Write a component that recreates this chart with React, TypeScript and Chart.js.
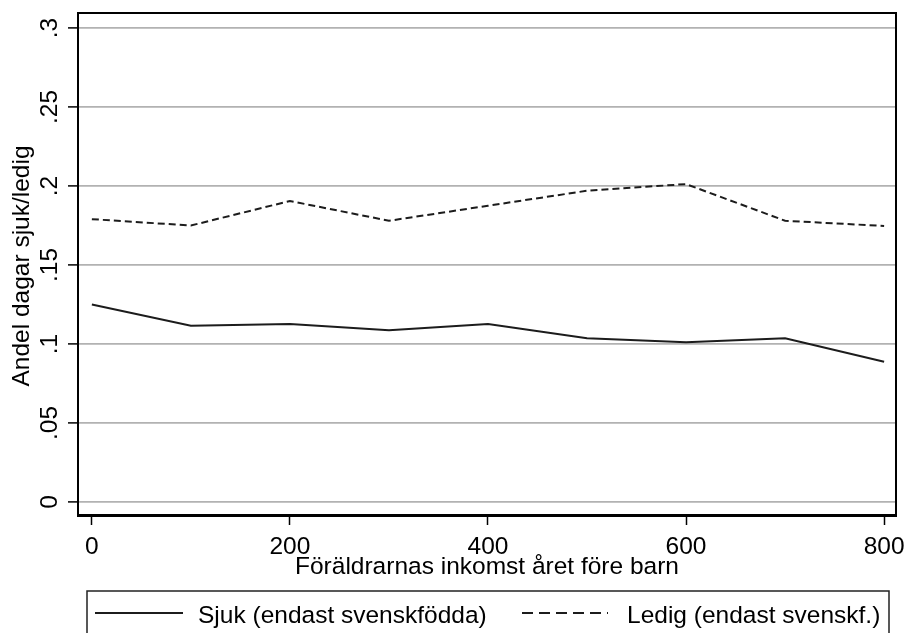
import React, { useEffect, useRef } from "react";
import { Chart, registerables } from "chart.js";

Chart.register(...registerables);

// ---- data ----
const incomeLevels = [0, 100, 200, 300, 400, 500, 600, 700, 800];
const sjukShare = [0.125, 0.1116, 0.1127, 0.1087, 0.1126, 0.1036, 0.1011, 0.1036, 0.0888];
const ledigShare = [0.179, 0.175, 0.1905, 0.178, 0.1875, 0.197, 0.2012, 0.178, 0.1747];
const xTickValues = [0, 200, 400, 600, 800];
const yTickValues = [0, 0.05, 0.1, 0.15, 0.2, 0.25, 0.3];
const yTickLabels = ["0", ".05", ".1", ".15", ".2", ".25", ".3"];
const seriesNames = ["Sjuk (endast svenskfödda)", "Ledig (endast svenskf.)"];
const xTitle = "Föräldrarnas inkomst året före barn";
const yTitle = "Andel dagar sjuk/ledig";

const FONT_SIZE = 24.5;
const FONT_FAMILY = '"Liberation Sans", Arial, sans-serif';
const LINE_COLOR = "#1c1c1c";
const GRID_COLOR = "#b2b2b2";

const stataPlugin = {
  id: "stataDecor",
  afterDraw(chart: any) {
    const { ctx, chartArea: a, scales } = chart;
    const ys = scales.y;
    ctx.save();
    ctx.font = `${FONT_SIZE}px ${FONT_FAMILY}`;
    ctx.fillStyle = "#000";
    ctx.textAlign = "center";
    ctx.textBaseline = "middle";
    // y tick labels (rotated, Stata style)
    yTickValues.forEach((v, i) => {
      const py = ys.getPixelForValue(v);
      ctx.save();
      ctx.translate(50, py);
      ctx.rotate(-Math.PI / 2);
      ctx.fillText(yTickLabels[i], 0, 0);
      ctx.restore();
    });
    // y title
    ctx.save();
    ctx.translate(22, (a.top + a.bottom) / 2 + 2);
    ctx.rotate(-Math.PI / 2);
    ctx.fillText(yTitle, 0, 0);
    ctx.restore();
    // x title
    ctx.textBaseline = "alphabetic";
    ctx.fillText(xTitle, (a.left + a.right) / 2, 574);
    // plot frame
    ctx.strokeStyle = "#000";
    ctx.lineWidth = 2;
    ctx.strokeRect(a.left, a.top, a.right - a.left, a.bottom - a.top);
    ctx.lineWidth = 3;
    ctx.beginPath();
    ctx.moveTo(a.left - 1, a.bottom + 0.5);
    ctx.lineTo(a.right + 1, a.bottom + 0.5);
    ctx.stroke();
    // legend
    const lgLeft = 87, lgTop = 591, lgRight = 889;
    ctx.lineWidth = 1.5;
    ctx.strokeStyle = "#222";
    ctx.beginPath();
    ctx.moveTo(lgLeft, 660);
    ctx.lineTo(lgLeft, lgTop);
    ctx.lineTo(lgRight, lgTop);
    ctx.lineTo(lgRight, 660);
    ctx.stroke();
    const sy = 613;
    ctx.strokeStyle = LINE_COLOR;
    ctx.lineWidth = 1.8;
    ctx.setLineDash([]);
    ctx.beginPath();
    ctx.moveTo(95, sy);
    ctx.lineTo(183, sy);
    ctx.stroke();
    ctx.setLineDash([11, 6]);
    ctx.beginPath();
    ctx.moveTo(522, sy);
    ctx.lineTo(608, sy);
    ctx.stroke();
    ctx.setLineDash([]);
    ctx.textAlign = "left";
    ctx.textBaseline = "alphabetic";
    ctx.fillText(seriesNames[0], 198, 623);
    ctx.fillText(seriesNames[1], 627, 623);
    ctx.restore();
  },
};

export default function App() {
  const canvasRef = useRef<HTMLCanvasElement | null>(null);

  useEffect(() => {
    if (!canvasRef.current) return;
    const chart = new Chart(canvasRef.current, {
      type: "line",
      data: {
        datasets: [
          {
            label: seriesNames[0],
            data: incomeLevels.map((x, i) => ({ x, y: sjukShare[i] })),
            borderColor: LINE_COLOR,
            borderWidth: 2,
            pointRadius: 0,
            tension: 0,
            fill: false,
          },
          {
            label: seriesNames[1],
            data: incomeLevels.map((x, i) => ({ x, y: ledigShare[i] })),
            borderColor: LINE_COLOR,
            borderWidth: 2,
            borderDash: [7, 4],
            pointRadius: 0,
            tension: 0,
            fill: false,
          },
        ],
      },
      options: {
        animation: false,
        responsive: false,
        devicePixelRatio: 1,
        layout: { padding: { left: 0, top: 13, right: 10, bottom: 78 } },
        plugins: { legend: { display: false }, tooltip: { enabled: false } },
        scales: {
          x: {
            type: "linear",
            position: "bottom",
            min: -14,
            max: 812,
            afterBuildTicks: (s: any) => {
              s.ticks = xTickValues.map((v) => ({ value: v }));
            },
            afterFit: (s: any) => {
              s.height = 40;
              s.paddingLeft = 0;
              s.paddingRight = 0;
            },
            border: { display: false },
            grid: {
              drawOnChartArea: false,
              drawTicks: true,
              tickLength: 10,
              tickColor: "#000",
              tickWidth: 1.5,
            },
            ticks: {
              maxRotation: 0,
              minRotation: 0,
              autoSkip: false,
              padding: 8,
              color: "#000",
              font: { size: FONT_SIZE, family: FONT_FAMILY },
              callback: (v: any) => String(v),
            },
          },
          y: {
            type: "linear",
            position: "left",
            min: -0.00823,
            max: 0.30949,
            afterBuildTicks: (s: any) => {
              s.ticks = yTickValues.map((v) => ({ value: v }));
            },
            afterFit: (s: any) => {
              s.width = 78;
              s.paddingTop = 0;
              s.paddingBottom = 0;
            },
            border: { display: false },
            grid: {
              color: GRID_COLOR,
              lineWidth: 1.8,
              drawTicks: true,
              tickLength: 10,
              tickColor: "#000",
              tickWidth: 1.5,
            },
            ticks: { display: false },
          },
        },
      },
      plugins: [stataPlugin],
    });
    return () => chart.destroy();
  }, []);

  return (
    <div style={{ position: "fixed", left: 0, top: 0, width: 906, height: 633, background: "#fff" }}>
      <canvas ref={canvasRef} width={906} height={633} style={{ display: "block" }} />
    </div>
  );
}
